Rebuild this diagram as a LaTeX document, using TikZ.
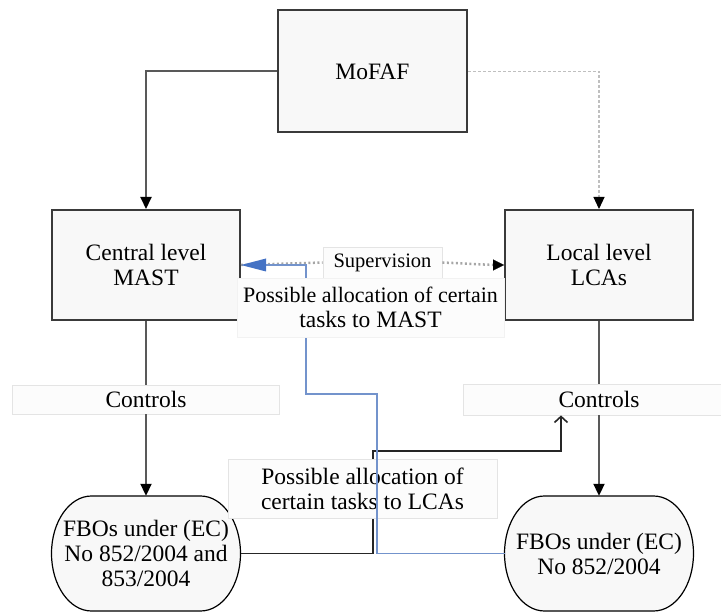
\documentclass[tikz,border=0pt]{standalone}
\usepackage{fontspec}
\setmainfont{Liberation Serif}
\usetikzlibrary{arrows.meta,calc}
\definecolor{boxfill}{HTML}{F8F8F8}
\definecolor{boxline}{HTML}{3A3A3A}
\definecolor{connline}{HTML}{595959}
\definecolor{lblfill}{HTML}{FCFCFC}
\definecolor{lblline}{HTML}{E4E4E4}
\definecolor{bluearrow}{HTML}{4472C4}
\definecolor{blueline}{HTML}{7393CC}
\definecolor{dashgray}{HTML}{BFBFBF}
\definecolor{dotgray}{HTML}{A6A6A6}
\tikzset{
  txt/.style={font=\fontsize{23.5}{25}\selectfont, align=center, inner sep=0pt},
  mainbox/.style={txt, draw=boxline, line width=2pt, fill=boxfill},
  fbo/.style={txt, minimum width=189pt, minimum height=115pt},
  fboline/.style={draw=black, line width=1.2pt, fill=boxfill},
  lbl/.style={txt, draw=lblline, line width=0.8pt, fill=lblfill},
  conn/.style={draw=connline, line width=2pt},
  tip/.style={-{Triangle[length=12pt,width=11pt,color=black]}},
}
% elliptic-cornered outline: centre x, centre y (picture units)
\newcommand{\fbooutline}[2]{%
  \draw[fboline] (#1-54.5,#2-57.5) -- (#1+54.5,#2-57.5)
    arc[start angle=90,end angle=-90,x radius=40pt,y radius=57.5pt]
    -- (#1-54.5,#2+57.5)
    arc[start angle=270,end angle=90,x radius=40pt,y radius=57.5pt] -- cycle;}
\begin{document}
\begin{tikzpicture}[x=1pt,y=-1pt]
\useasboundingbox (0,0) rectangle (721,612);
\clip (0,0) rectangle (721,612);
% main boxes
\node[mainbox, minimum width=189pt, minimum height=122pt] (mofaf) at (372.5,71.5) {MoFAF};
\node[mainbox, minimum width=188pt, minimum height=110pt] (central) at (146,265) {Central level\\MAST};
\node[mainbox, minimum width=188pt, minimum height=110pt] (local) at (599,265) {Local level\\LCAs};
\fbooutline{146}{553.5}
\fbooutline{599}{553.5}
\node[fbo] (e1) at (146,553.5) {FBOs under (EC)\\No 852/2004 and\\853/2004};
\node[fbo] (e2) at (599,553.5) {FBOs under (EC)\\No 852/2004};
% label nodes
\node[lbl, minimum width=267pt, minimum height=29pt] (ctrl1) at (146,399.5) {Controls};
\node[lbl, minimum width=272pt, minimum height=31pt] (ctrl2) at (599,399.5) {Controls};
\node[lbl, minimum width=119pt, minimum height=31pt] (sup) at (382.5,262.5) {\fontsize{20.5}{24}\selectfont Supervision};
% connectors
\draw[conn, tip] (mofaf.west) -| (central.north);
\draw[draw=dashgray, line width=1.2pt, dash pattern=on 3pt off 2pt, tip] (mofaf.east) -| (local.north);
\draw[draw=dotgray, line width=2.5pt, dash pattern=on 2pt off 2.5pt] (central.east) -- (sup.west);
\draw[draw=dotgray, line width=2.5pt, dash pattern=on 2pt off 2.5pt] (sup.east) -- ([xshift=-10pt]local.west);
\draw[draw=black, line width=0.1pt, -{Triangle[length=11pt,width=11pt,color=black]}] ([xshift=-11pt]local.west) -- (local.west);
\draw[conn] (central.south) -- (ctrl1.north);
\draw[conn, tip] (ctrl1.south) -- (e1.north);
\draw[conn] (local.south) -- (ctrl2.north);
\draw[conn, tip] (ctrl2.south) -- (e2.north);
% black allocation line
\draw[draw=black!85, line width=1.6pt, -{Straight Barb[length=6pt,width=13pt]}] (240.5,553.5) -| (373,451) -| ([xshift=-38pt]ctrl2.south);
\node[lbl, minimum width=269pt, minimum height=59pt] (lca) at (362.5,488.5) {Possible allocation of\\certain tasks to LCAs};
% blue allocation line
\draw[draw=blueline, line width=1.2pt] (505,553.5) -| (377,394) -| (306,265) -- ([xshift=20pt]central.east);
\draw[draw=none, fill=bluearrow] (central.east) -- ++(25,-6.5) -- ++(0,13) -- cycle;
\node[lbl, draw=lblline!50, fill=lblfill, minimum width=267pt, minimum height=59pt] (mast) at (370.5,307.5) {\fontsize{22}{25}\selectfont Possible allocation of certain\\\fontsize{23.5}{25}\selectfont tasks to MAST};
\end{tikzpicture}
\end{document}
